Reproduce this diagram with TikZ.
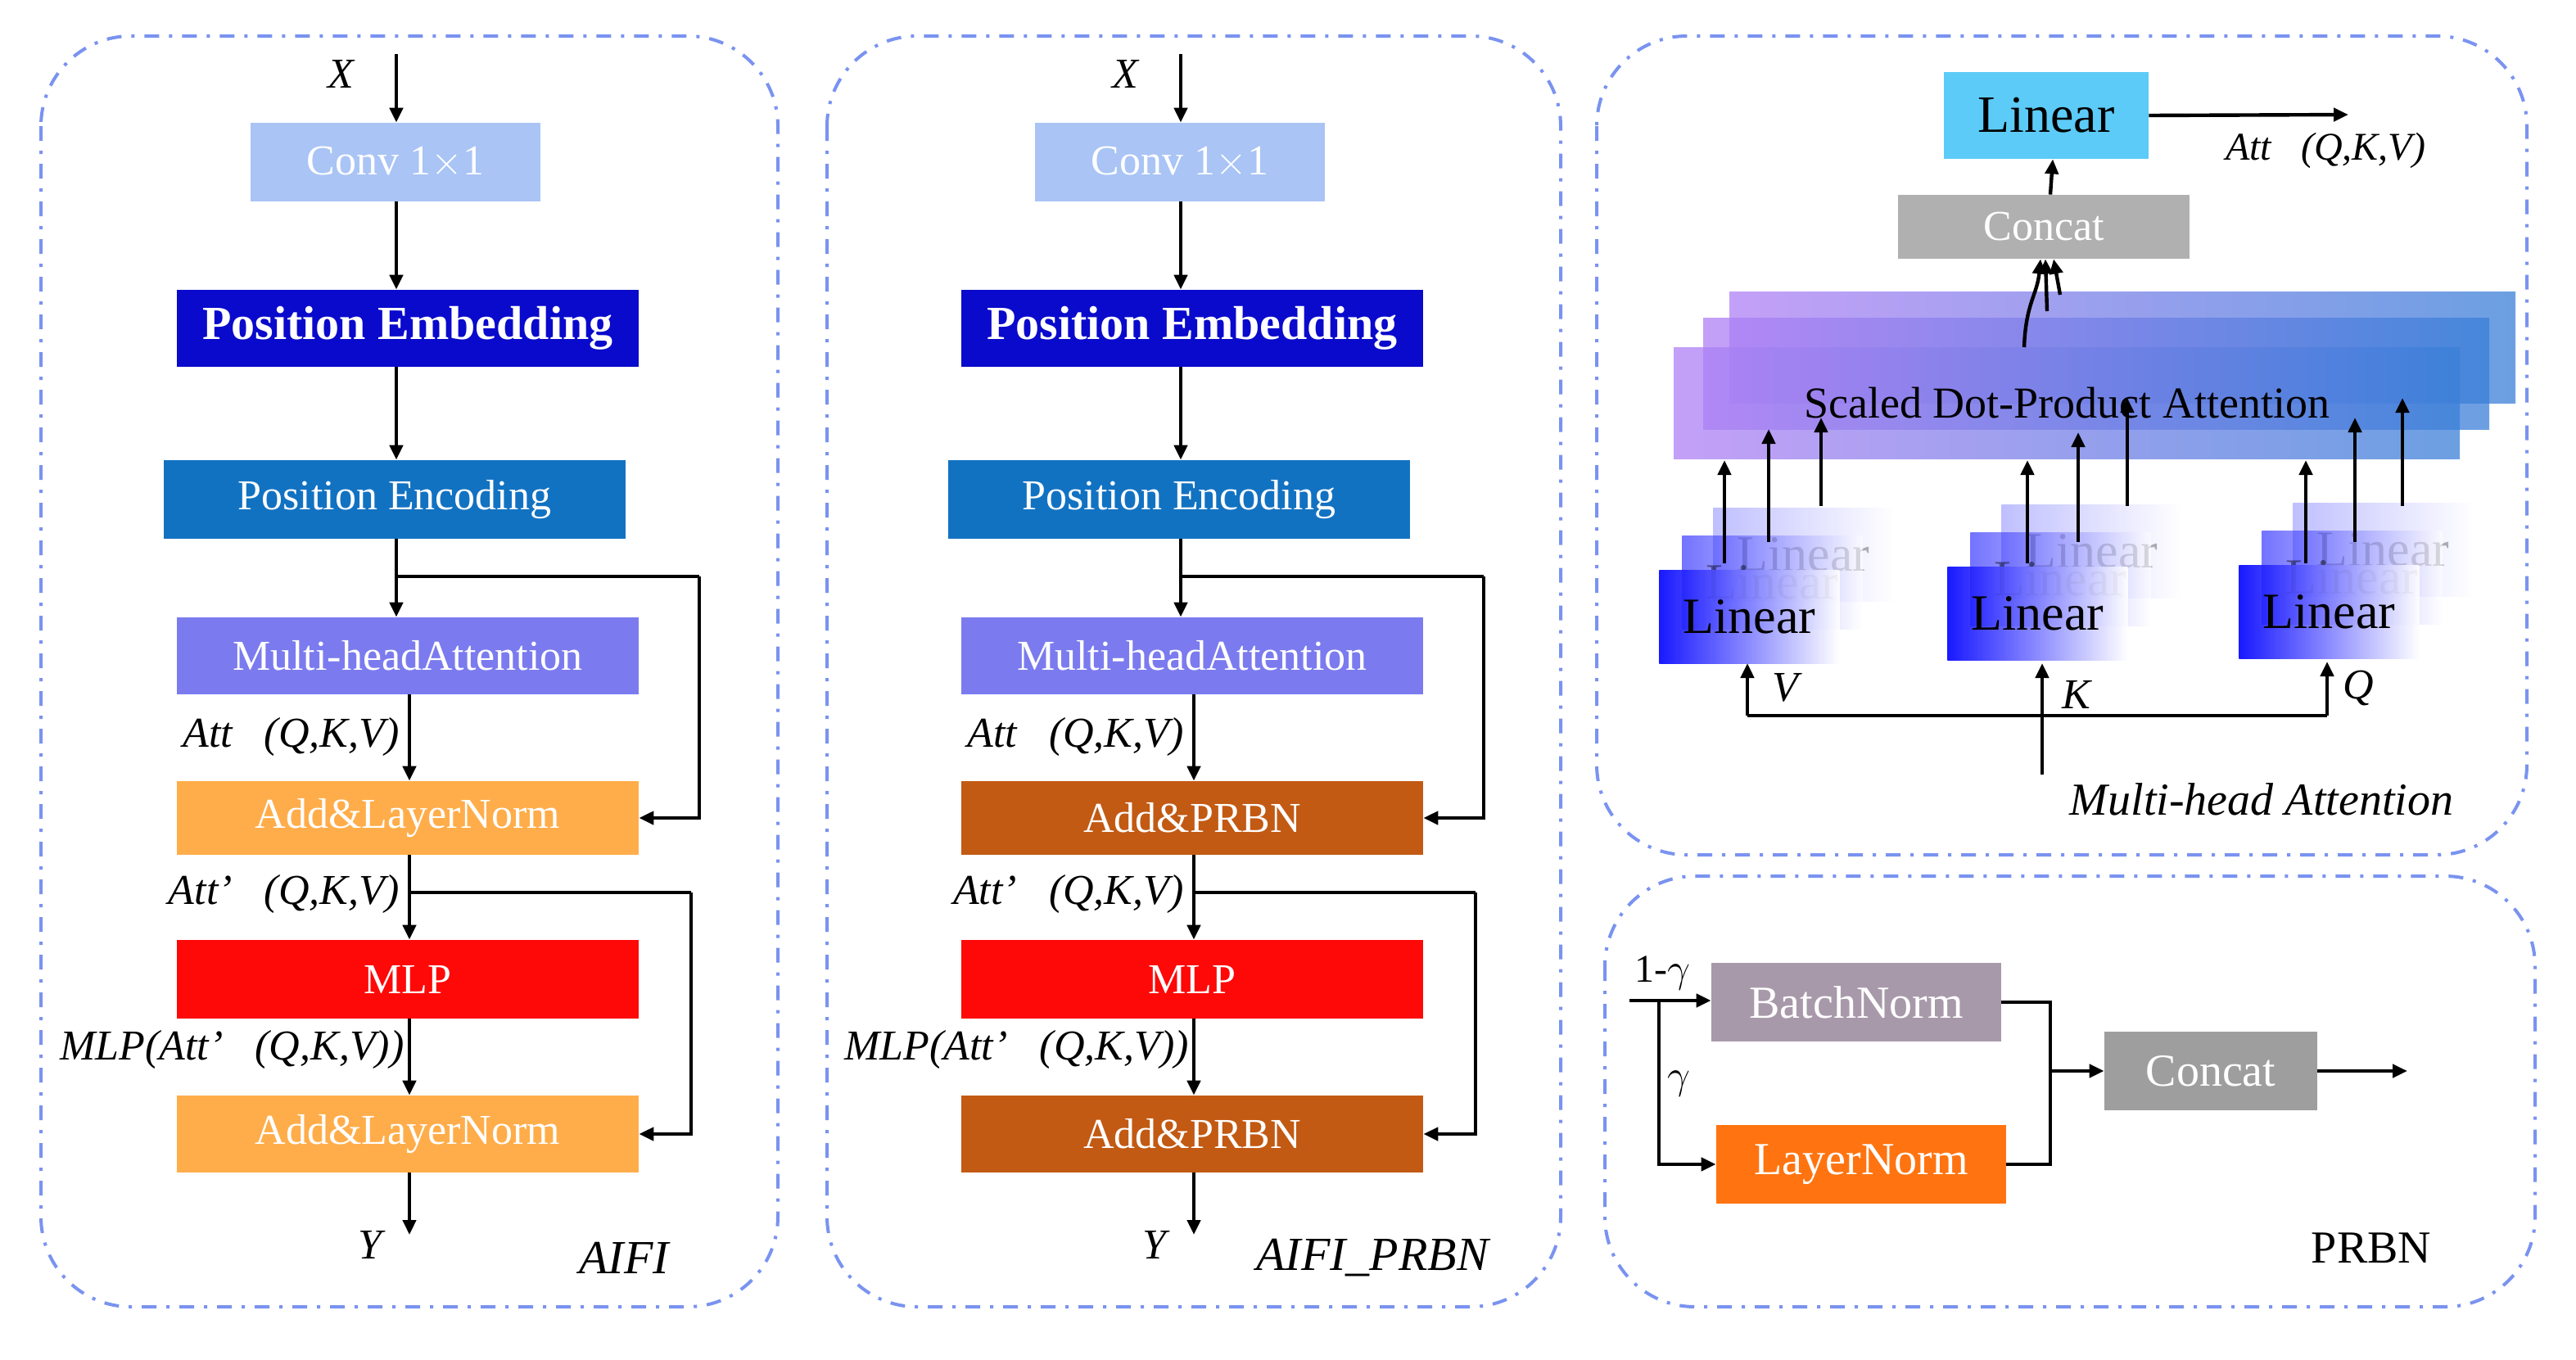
\documentclass[tikz,border=0pt]{standalone}
\usepackage{fontspec}
\setmainfont{Liberation Serif}
\usetikzlibrary{arrows.meta}
\definecolor{bord}{HTML}{7A93F0}
\definecolor{convc}{HTML}{A9C4F5}
\definecolor{pembc}{HTML}{0A0ACC}
\definecolor{pencc}{HTML}{1272C2}
\definecolor{mhac}{HTML}{7B7BEF}
\definecolor{alnc}{HTML}{FFAD4A}
\definecolor{prbnc}{HTML}{C25A14}
\definecolor{mlpc}{HTML}{FF0808}
\definecolor{linc}{HTML}{5CCBF7}
\definecolor{grayc}{HTML}{B0B0B0}
\definecolor{bnc}{HTML}{A899AA}
\definecolor{lnc}{HTML}{FF7410}
\definecolor{sdl}{HTML}{B080F5}
\definecolor{sdr}{HTML}{3A7FD8}
\tikzset{
  panel/.style={draw=bord,line width=2pt,rounded corners=55pt,dash pattern=on 9pt off 6pt on 2pt off 6pt},
  box/.style={minimum width=282pt,minimum height=47pt,inner sep=0pt,text=white,font=\fontsize{26}{28}\selectfont},
  arr/.style={line width=2.2pt,-{Triangle[length=9pt,width=8pt]}},
  ln/.style={line width=2.2pt},
  lab/.style={font=\fontsize{26}{28}\selectfont\itshape,inner sep=0pt},
  lin/.style={minimum width=110pt,minimum height=57pt,inner sep=0pt,left color=blue,right color=white,font=\fontsize{31}{33}\selectfont},
  sd/.style={minimum width=480pt,minimum height=68pt,inner sep=0pt,left color=sdl,right color=sdr,fill opacity=0.75}
}
\newcommand\aifistack[4]{%
\begin{scope}[xshift=#2]
\node[box,minimum width=177pt,minimum height=48pt,fill=convc] (#1conv) at (241.5,99) {Conv 1$\times$1};
\node[lab,font=\fontsize{26}{28}\selectfont\itshape] (#1x) at (208,45) {X};
\coordinate (#1xin) at (242,33);
\node[box,fill=pembc,font=\fontsize{29}{31}\selectfont\bfseries] (#1pemb) at (249,200.5) {Position Embedding};
\node[box,minimum height=48pt,fill=pencc] (#1penc) at (241,305) {Position Encoding};
\node[box,fill=mhac] (#1mha) at (249,400.5) {Multi-headAttention};
\node[box,minimum height=45pt,fill=#4] (#1add1) at (249,499.5) {#3};
\node[box,minimum height=48pt,fill=mlpc] (#1mlp) at (249,598) {MLP};
\node[box,fill=#4] (#1add2) at (249,692.5) {#3};
\coordinate (#1yout) at (250,754);
\node[lab] (#1y) at (226,760) {Y};
\node[lab,anchor=east] (#1l1) at (244,450) {Att\ \ \ (Q,K,V)};
\node[lab,anchor=east] (#1l2) at (244,546) {Att'\ \ \ (Q,K,V)};
\node[lab,anchor=east] (#1l3) at (247,641) {MLP(Att'\ \ \ (Q,K,V))};
\draw[arr] (#1xin) -- (#1conv.north -| #1xin);
\draw[arr] (#1conv.south -| #1xin) -- (#1pemb.north -| #1xin);
\draw[arr] (#1pemb.south -| #1xin) -- (#1penc.north -| #1xin);
\draw[arr] (#1penc.south -| #1xin) -- (#1mha.north -| #1xin);
\draw[ln] (242,352) -- (427,352);
\draw[arr] (427,352) |- (#1add1.east);
\draw[arr] (#1mha.south -| #1yout) -- (#1add1.north -| #1yout);
\draw[arr] (#1add1.south -| #1yout) -- (#1mlp.north -| #1yout);
\draw[ln] (250,545) -- (422,545);
\draw[arr] (422,545) |- (#1add2.east);
\draw[arr] (#1mlp.south -| #1yout) -- (#1add2.north -| #1yout);
\draw[arr] (#1add2.south -| #1yout) -- (#1yout);
\end{scope}}
\begin{document}
\begin{tikzpicture}[x=1pt,y=-1pt]
\useasboundingbox (0,0) rectangle (1573,830);
% panels
\draw[panel] (25,22) rectangle (475,798);
\draw[panel] (505,22) rectangle (953,798);
\draw[panel] (975,22) rectangle (1543,522);
\draw[panel] (980,535) rectangle (1548,798);
\aifistack{a}{0pt}{Add\&LayerNorm}{alnc}
\aifistack{b}{479pt}{Add\&PRBN}{prbnc}
\node[lab,font=\fontsize{29}{31}\selectfont\itshape] (aifi) at (381,768) {AIFI};
\node[lab,font=\fontsize{29}{31}\selectfont\itshape] (aifip) at (838,768) {AIFI\_PRBN};
% Multi-head attention panel
\node[box,minimum width=125pt,minimum height=53pt,fill=linc,text=black,font=\fontsize{32}{34}\selectfont] (tlin) at (1249.5,70.5) {Linear};
\coordinate (attout) at (1434,70);
\draw[arr] (tlin.east) -- (attout);
\node[lab,font=\fontsize{24}{26}\selectfont\itshape] (attl) at (1420,92) {Att\ \ \ (Q,K,V)};
\node[box,minimum width=178pt,minimum height=39pt,fill=grayc] (cc) at (1248,138.5) {Concat};
\draw[arr] (cc.north) ++(4,0) -- ([xshift=4pt]tlin.south);
\node[sd] (sd3) at (1296,212) {};
\node[sd] (sd2) at (1280,228) {};
\node[sd,text opacity=1,font=\fontsize{27}{29}\selectfont] (sd1) at (1262,246) {Scaled Dot-Product Attention};
\draw[arr] (1236,212) .. controls (1237,185) and (1244,180) .. ([xshift=-2pt]cc.south);
\draw[arr] (1250,190) -- ([xshift=1pt]cc.south);
\draw[arr] (1258,180) -- ([xshift=6pt]cc.south);
\foreach \n/\x/\y in {v/1013/348,k/1189/346,q/1367/345}{
  \node[lin,anchor=north west,fill opacity=0.25,text opacity=0.3] (\n3) at (\x+33,\y-38) {Linear};
  \node[lin,anchor=north west,fill opacity=0.55,text opacity=0.45] (\n2) at (\x+14,\y-21) {Linear};
  \node[lin,anchor=north west,fill opacity=0.9,text opacity=1] (\n1) at (\x,\y) {Linear};
}
% arrows linear -> SDPA
\foreach \x/\s/\e in {1053/344/281,1080/331/262,1112/309/255,1238/344/281,1269/331/264,1299/309/243,1408/344/281,1438/331/255,1467/309/243}{
  \draw[arr] (\x,\s) -- (\x,\e);
}
\coordinate (kin) at (1247,473);
\draw[ln] (1067,437) -- (1421,437);
\draw[arr] (1067,437) -- (1067,405);
\draw[arr] (1421,437) -- (1421,404);
\draw[arr] (kin) -- (1247,405);
\node[lab] (vl) at (1090,420) {V};
\node[lab] (kl) at (1268,424) {K};
\node[lab] (ql) at (1440,420) {Q};
\node[lab,font=\fontsize{28}{30}\selectfont\itshape] (mhal) at (1381,488) {Multi-head Attention};
% PRBN panel
\node[box,minimum width=177pt,minimum height=48pt,fill=bnc,font=\fontsize{28}{30}\selectfont] (bn) at (1133.5,612) {BatchNorm};
\node[box,minimum width=177pt,minimum height=48pt,fill=lnc,font=\fontsize{28}{30}\selectfont] (lnn) at (1136.5,711) {LayerNorm};
\node[box,minimum width=130pt,minimum height=48pt,fill=grayc!90!black,font=\fontsize{28}{30}\selectfont] (pc) at (1350,654) {Concat};
\coordinate (pin) at (995,611);
\coordinate (pout) at (1470,654);
\draw[arr] (pin) -- (bn.west |- pin);
\draw[arr] (1013,611) |- (lnn.west);
\draw[ln] (bn.east) -- (1252,612) -- (1252,711) -- (lnn.east);
\draw[arr] (1252,654) -- (pc.west);
\draw[arr] (pc.east) -- (pout);
\node[font=\fontsize{24}{26}\selectfont,inner sep=0pt] (g1) at (1015,594) {1-$\gamma$};
\node[font=\fontsize{24}{26}\selectfont,inner sep=0pt] (g2) at (1025,662) {$\gamma$};
\node[font=\fontsize{28}{30}\selectfont,inner sep=0pt] (prbn) at (1448,762) {PRBN};
\end{tikzpicture}
\end{document}
